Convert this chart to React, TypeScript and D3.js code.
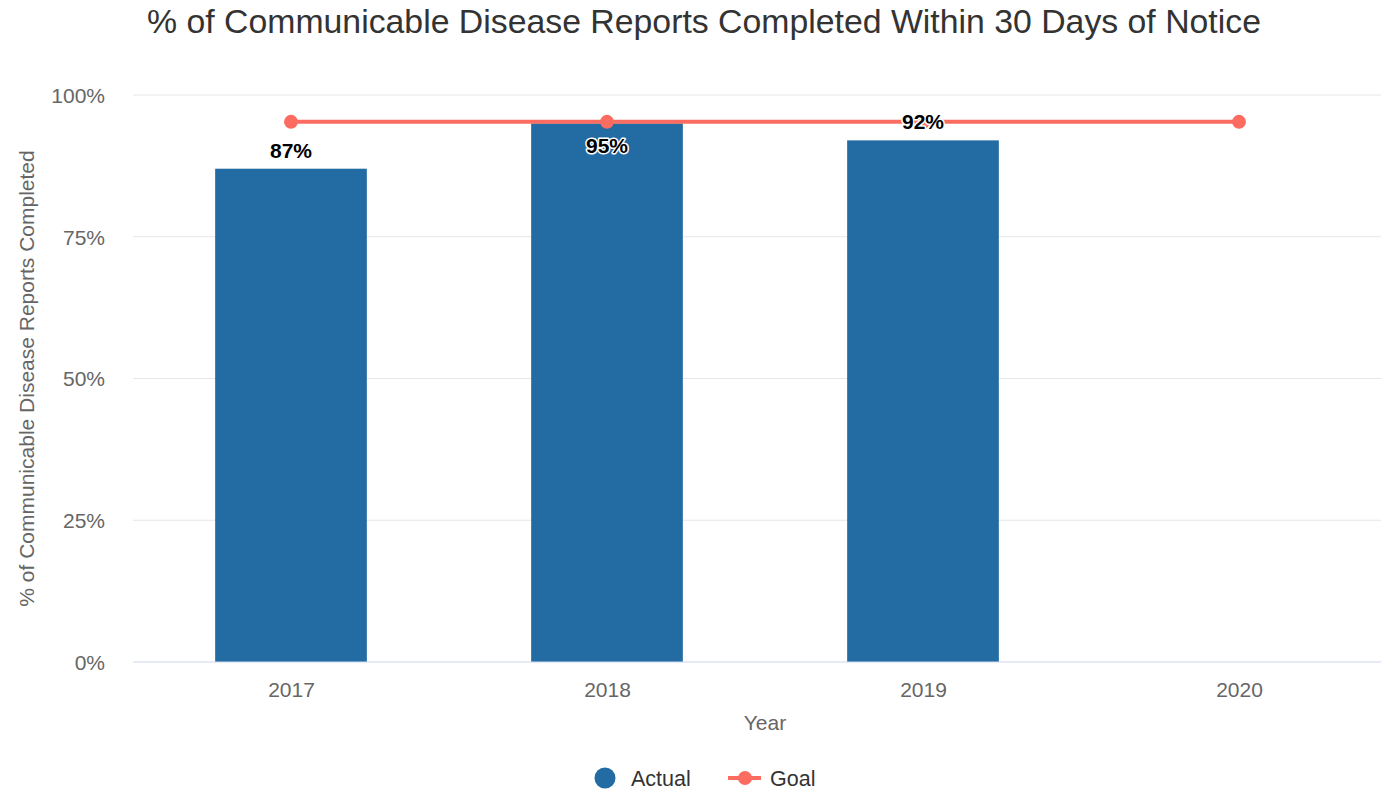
import * as d3 from "d3"
import { useEffect, useRef } from "react"

const years = ["2017", "2018", "2019", "2020"]
const actual = [0.87, 0.95, 0.92, null]
const goal = [0.95, 0.95, 0.95, 0.95]
const yTicks = [0, 0.25, 0.5, 0.75, 1]

export default function App() {
  const ref = useRef<SVGSVGElement>(null)

  useEffect(() => {
    const W = 1381, H = 790
    const margin = { top: 95, left: 133, bottom: 128 }
    const font = "'Liberation Sans', Arial, Helvetica, sans-serif"

    const svg = d3.select(ref.current)
    svg.selectAll("*").remove()
    svg.attr("width", W).attr("height", H).style("font-family", font)

    // band is 316px wide, plot runs a bit past the right edge like the original
    const step = 316
    const x = d3.scalePoint<string>()
      .domain(years)
      .range([margin.left + step / 2, margin.left + step * 3.5])
    const barW = step * 0.48

    const y = d3.scaleLinear().domain([0, 1]).range([H - margin.bottom, margin.top])

    // title
    svg.append("text")
      .attr("x", 704).attr("y", 33)
      .attr("text-anchor", "middle")
      .attr("fill", "#333")
      .style("font-size", "33.8px")
      .text("% of Communicable Disease Reports Completed Within 30 Days of Notice")

    // grid
    const grid = svg.append("g")
    grid.selectAll("line").data(yTicks.filter(d => d > 0)).enter().append("line")
      .attr("x1", margin.left).attr("x2", W)
      .attr("y1", d => y(d)).attr("y2", d => y(d))
      .attr("stroke", "#e6e6e6")

    // y axis labels
    const yAxis = svg.append("g")
      .attr("transform", `translate(${margin.left - 28},0)`)
      .call(d3.axisLeft(y).tickValues(yTicks).tickFormat(d3.format(".0%")).tickSize(0).tickPadding(0))
    yAxis.select(".domain").remove()
    yAxis.selectAll("text")
      .attr("fill", "#666").attr("dy", "0.35em")
      .style("font-size", "21px").style("font-family", font)

    // bars
    const barData = years.map((yr, i) => ({ yr, v: actual[i] })).filter(d => d.v != null) as { yr: string, v: number }[]
    svg.append("g").selectAll("rect").data(barData).enter().append("rect")
      .attr("x", d => x(d.yr)! - barW / 2)
      .attr("width", barW)
      .attr("y", d => y(d.v))
      .attr("height", d => y(0) - y(d.v))
      .attr("fill", "#226ca3")

    // x axis
    const xAxis = svg.append("g")
      .attr("transform", `translate(0,${y(0)})`)
      .call(d3.axisBottom(x).tickSize(0).tickPadding(20))
    xAxis.select(".domain").remove()
    xAxis.append("line")
      .attr("x1", margin.left).attr("x2", W)
      .attr("stroke", "#ccd6eb")
    xAxis.selectAll("text")
      .attr("fill", "#666")
      .style("font-size", "21px").style("font-family", font)

    // axis titles
    svg.append("text")
      .attr("x", 765).attr("y", 730)
      .attr("text-anchor", "middle").attr("fill", "#666")
      .style("font-size", "21px")
      .text("Year")
    svg.append("text")
      .attr("transform", `translate(34,${(y(0) + y(1)) / 2}) rotate(-90)`)
      .attr("text-anchor", "middle").attr("fill", "#666")
      .style("font-size", "21px")
      .text("% of Communicable Disease Reports Completed")

    // goal line
    const line = d3.line<number>()
      .x((d, i) => x(years[i])!)
      .y(d => y(d) - 1.5)
    svg.append("path")
      .datum(goal)
      .attr("d", line)
      .attr("fill", "none")
      .attr("stroke", "#fc6c61")
      .attr("stroke-width", 4)
    svg.append("g").selectAll("circle").data(goal).enter().append("circle")
      .attr("cx", (d, i) => x(years[i])!)
      .attr("cy", d => y(d) - 1.5)
      .attr("r", 7)
      .attr("fill", "#fc6c61")

    // data labels (the one at goal sits inside the bar)
    svg.append("g").selectAll("text").data(barData).enter().append("text")
      .attr("x", d => x(d.yr)!)
      .attr("y", d => d.v >= goal[0] ? y(d.v) + 30 : y(d.v) - 11)
      .attr("text-anchor", "middle")
      .attr("fill", "#000")
      .attr("stroke", "#fff")
      .attr("stroke-width", 3)
      .attr("stroke-linejoin", "round")
      .attr("paint-order", "stroke")
      .style("font-size", "21px")
      .style("font-weight", "bold")
      .text(d => d3.format(".0%")(d.v))

    // legend
    const lg = svg.append("g").attr("transform", "translate(0,778)")
    lg.append("circle").attr("cx", 605).attr("cy", 0).attr("r", 10.5).attr("fill", "#226ca3")
    lg.append("text").attr("x", 631).attr("y", 7.5)
      .attr("fill", "#333").style("font-size", "21.5px").text("Actual")
    lg.append("line").attr("x1", 728).attr("x2", 761).attr("stroke", "#fc6c61").attr("stroke-width", 4)
    lg.append("circle").attr("cx", 745).attr("cy", 0).attr("r", 7).attr("fill", "#fc6c61")
    lg.append("text").attr("x", 770).attr("y", 7.5)
      .attr("fill", "#333").style("font-size", "21.5px").text("Goal")
  })

  return (
    <svg ref={ref} style={{ position: "absolute", left: 0, top: 0, display: "block" }} />
  )
}
